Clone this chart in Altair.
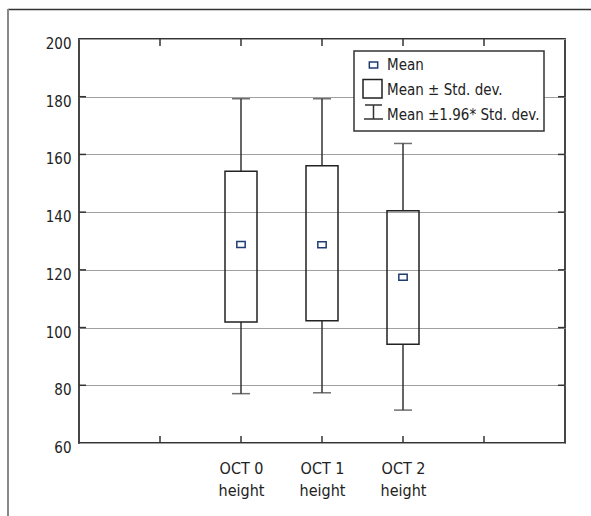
import altair as alt
import pandas as pd

# ---- data ----
categories = ["OCT 0 height", "OCT 1 height", "OCT 2 height"]
means = [128.8, 128.7, 117.4]
box_lo = [101.9, 102.4, 94.2]
box_hi = [154.2, 156.1, 140.5]
whisk_lo = [77.1, 77.4, 71.4]
whisk_hi = [179.3, 179.3, 163.8]

y_ticks = [60, 80, 100, 120, 140, 160, 180, 200]
grid_vals = [80, 100, 120, 140, 160, 180]
x_domain = ["pad_l"] + categories + ["pad_r"]
legend_labels = ["Mean", "Mean \u00b1 Std. dev.", "Mean \u00b11.96* Std. dev."]

FONT = "DejaVu Sans Condensed, Roboto Condensed, Liberation Sans"
W, H = 486, 404

df = pd.DataFrame({
    "cat": categories, "mean": means, "lo": box_lo, "hi": box_hi,
    "wlo": whisk_lo, "whi": whisk_hi,
})
xt = pd.DataFrame({"cat": x_domain})
yt = pd.DataFrame({"v": grid_vals})
one = pd.DataFrame({"a": [0]})

x_scale = alt.Scale(type="point", domain=x_domain, padding=1)
y_scale = alt.Scale(domain=[60, 200], nice=False, zero=False)

x_enc = alt.X("cat:N", scale=x_scale, sort=x_domain,
              axis=alt.Axis(values=categories, title=None, domain=False, ticks=False,
                            grid=False, labelAngle=0, labelFont=FONT, labelFontSize=16,
                            labelColor="#222", labelPadding=17, labelLineHeight=22.5,
                            labelExpr="[substring(datum.label, 0, 5), substring(datum.label, 6)]"))
y_axis = alt.Axis(values=y_ticks, title=None, domain=False, ticks=False, grid=True,
                  gridColor="#a0a0a0", gridWidth=1.2, labelFont=FONT, labelFontSize=15,
                  labelColor="#222", labelPadding=8, labelBaseline="alphabetic",
                  labelOffset=9.5, labelFlush=False)

base = alt.Chart(df)

stem_lo = base.mark_rule(color="#333", strokeWidth=1.5).encode(
    x=x_enc, y=alt.Y("wlo:Q", scale=y_scale, axis=y_axis), y2="lo:Q")
stem_hi = base.mark_rule(color="#333", strokeWidth=1.5).encode(
    x=alt.X("cat:N", scale=x_scale), y=alt.Y("hi:Q", scale=y_scale), y2="whi:Q")
cap_lo = base.mark_tick(color="#333", size=18, thickness=1.5, orient="horizontal").encode(
    x=alt.X("cat:N", scale=x_scale), y=alt.Y("wlo:Q", scale=y_scale))
cap_hi = base.mark_tick(color="#333", size=18, thickness=1.5, orient="horizontal").encode(
    x=alt.X("cat:N", scale=x_scale), y=alt.Y("whi:Q", scale=y_scale))
boxes = base.mark_bar(fill=None, fillOpacity=0, stroke="#222", strokeWidth=1.5, size=32).encode(
    x=alt.X("cat:N", scale=x_scale), y=alt.Y("lo:Q", scale=y_scale), y2="hi:Q")

SQ = "M-1,-0.72L1,-0.72L1,0.72L-1,0.72Z"
mean_pts = base.mark_point(shape=SQ, size=70, filled=False, stroke="#1f3d73",
                           strokeWidth=1.5, fill="white", fillOpacity=1, opacity=1).encode(
    x=alt.X("cat:N", scale=x_scale), y=alt.Y("mean:Q", scale=y_scale))

tick_c = "#333"
xt_bot = alt.Chart(xt).mark_rule(color=tick_c, strokeWidth=1.5).encode(
    x=alt.X("cat:N", scale=x_scale), y=alt.value(H - 7), y2=alt.value(H))
xt_top = alt.Chart(xt).mark_rule(color=tick_c, strokeWidth=1.5).encode(
    x=alt.X("cat:N", scale=x_scale), y=alt.value(0), y2=alt.value(7))
yt_left = alt.Chart(yt).mark_rule(color=tick_c, strokeWidth=1.5).encode(
    y=alt.Y("v:Q", scale=y_scale), x=alt.value(0), x2=alt.value(7))
yt_right = alt.Chart(yt).mark_rule(color=tick_c, strokeWidth=1.5).encode(
    y=alt.Y("v:Q", scale=y_scale), x=alt.value(W - 7), x2=alt.value(W))

o = alt.Chart(one)
leg_box = o.mark_rect(fill="white", stroke="#333", strokeWidth=1.5).encode(
    x=alt.value(275), x2=alt.value(465), y=alt.value(12), y2=alt.value(92))
leg_mean = o.mark_point(shape=SQ, size=70, filled=False, stroke="#1f3d73", strokeWidth=1.5,
                        fill="white", fillOpacity=1, opacity=1).encode(
    x=alt.value(294.5), y=alt.value(26))
leg_rect = o.mark_rect(fill=None, stroke="#222", strokeWidth=1.5).encode(
    x=alt.value(284), x2=alt.value(303), y=alt.value(40.5), y2=alt.value(59))
leg_w1 = o.mark_rule(color="#333", strokeWidth=1.5).encode(
    x=alt.value(286), x2=alt.value(303), y=alt.value(66))
leg_w2 = o.mark_rule(color="#333", strokeWidth=1.5).encode(
    x=alt.value(294.5), y=alt.value(66), y2=alt.value(80))
leg_w3 = o.mark_rule(color="#333", strokeWidth=1.5).encode(
    x=alt.value(285), x2=alt.value(304), y=alt.value(80))
leg_texts = [
    o.mark_text(font=FONT, fontSize=15, color="#222", align="left", baseline="alphabetic").encode(
        x=alt.value(308), y=alt.value(yy), text=alt.value(lbl))
    for lbl, yy in zip(legend_labels, [31, 56, 81])
]

frame_top = o.mark_rule(color="#333", strokeWidth=1.5).encode(
    x=alt.value(-71), x2=alt.value(512), y=alt.value(-29.5))
frame_left = o.mark_rule(color="#888", strokeWidth=2).encode(
    x=alt.value(-71), y=alt.value(-30), y2=alt.value(477))

chart = alt.layer(
    stem_lo, stem_hi, cap_lo, cap_hi, boxes, mean_pts,
    xt_bot, xt_top, yt_left, yt_right,
    leg_box, leg_mean, leg_rect, leg_w1, leg_w2, leg_w3, *leg_texts,
    frame_top, frame_left,
).properties(
    width=W, height=H, autosize="none",
    padding={"left": 79, "top": 39, "right": 26, "bottom": 73},
    background="white",
).configure_view(stroke="#333", strokeWidth=1.8)

chart.save("out.html", embed_options={"renderer": "svg", "actions": False})
